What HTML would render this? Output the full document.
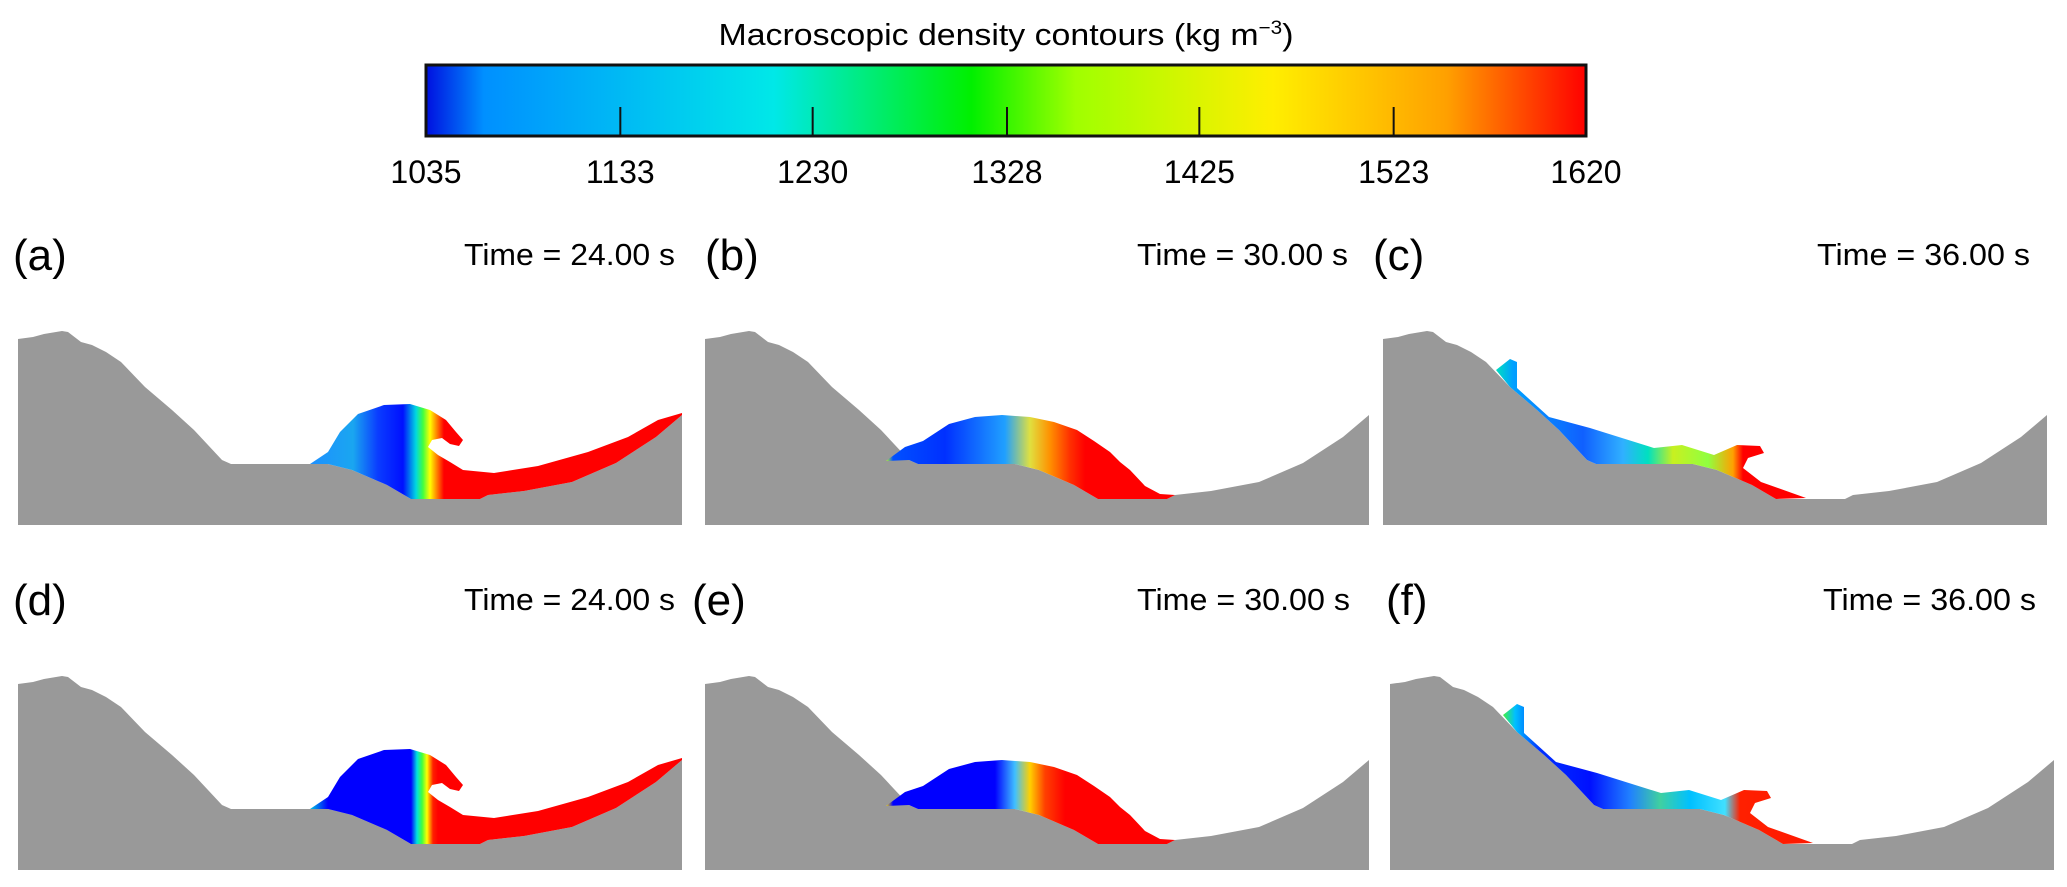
<!DOCTYPE html>
<html><head><meta charset="utf-8"><style>
html,body{margin:0;padding:0;background:#fff;}
svg{display:block;font-family:"Liberation Sans",sans-serif;}
</style></head><body>
<svg id="fig" width="2067" height="887" viewBox="0 0 2067 887" xmlns="http://www.w3.org/2000/svg">
<defs>
<linearGradient id="cbar" x1="0" x2="1" y1="0" y2="0">
<stop offset="0" stop-color="#0010e0"/><stop offset="0.05" stop-color="#0090ff"/>
<stop offset="0.3" stop-color="#00e8e8"/><stop offset="0.47" stop-color="#00f000"/>
<stop offset="0.56" stop-color="#a0ff00"/><stop offset="0.73" stop-color="#ffee00"/>
<stop offset="0.88" stop-color="#ffa000"/><stop offset="1" stop-color="#ff0000"/>
</linearGradient>
</defs>
<text x="1006" y="45" text-anchor="middle" font-size="31" textLength="575" lengthAdjust="spacingAndGlyphs">Macroscopic density contours  (kg m<tspan dy="-11" font-size="19">−3</tspan><tspan dy="11">)</tspan></text>
<g id="cb"></g>
<g id="panels"></g>
</svg>
<script>
const tickLabels = ["1035","1133","1230","1328","1425","1523","1620"];
const tickValues = [1035,1133,1230,1328,1425,1523,1620];
const panelLetters = ["(a)","(b)","(c)","(d)","(e)","(f)"];
const panelTimes = ["Time = 24.00 s","Time = 30.00 s","Time = 36.00 s","Time = 24.00 s","Time = 30.00 s","Time = 36.00 s"];

const NS="http://www.w3.org/2000/svg";
function mk(tag,attrs,parent){const e=document.createElementNS(NS,tag);for(const k in attrs)e.setAttribute(k,attrs[k]);parent.appendChild(e);return e;}

const cb=document.getElementById('cb');
const cbX0=426,cbX1=1586,cbY0=65,cbY1=136;
const vmin=tickValues[0],vmax=tickValues[tickValues.length-1];
function cx(v){return cbX0+(v-vmin)/(vmax-vmin)*(cbX1-cbX0);}
const bar=mk('rect',{x:cbX0,y:cbY0,width:cbX1-cbX0,height:cbY1-cbY0,fill:'url(#cbar)',stroke:'#111','stroke-width':3},cb);


tickValues.forEach((v,i)=>{
  if(i>0&&i<tickValues.length-1){
    const t=mk('line',{x1:cx(v),x2:cx(v),y1:cbY1,y2:cbY1-29,stroke:'#111','stroke-width':2},cb);
    
    
  }
  const tx=mk('text',{x:cx(v),y:183,'text-anchor':'middle','font-size':32},cb);
  tx.textContent=tickLabels[i];
  
  
});

const terrain=[[0,339],[15,337],[26,334],[44,331],[50,332],[63,342],[74,345],[88,352],[103,362],[127,387],[154,410],[176,430],[204,460],[213,464],[310,464],[334,470],[369,485],[393,499],[462,499],[470,495],[506,491],[554,482],[598,463],[638,437],[664,415],[664,525],[0,525]];
const shapes={
 wave:[[292,464],[310,452],[322,432],[340,414],[366,405],[392,404],[412,410],[428,420],[438,432],[445,440],[441,446],[432,444],[424,438],[414,440],[410,447],[420,455],[432,462],[445,470],[476,473],[520,466],[570,452],[610,437],[640,420],[664,413],[664,415],[638,437],[598,463],[554,482],[506,491],[470,495],[462,499],[393,499],[369,485],[334,470],[310,464]],
 dome:[[181,461],[200,447],[218,441],[244,424],[270,417],[297,415],[325,417],[349,422],[372,430],[389,441],[405,452],[415,462],[425,470],[440,486],[455,494],[470,495],[462,499],[393,499],[369,485],[334,470],[310,464],[213,464],[204,460]],
 layer:[[113,370],[127,359],[134,362],[134,388],[166,417],[207,428],[271,448],[299,445],[331,455],[354,445],[377,446],[381,453],[365,458],[360,468],[378,482],[423,498],[393,499],[369,485],[334,470],[310,464],[213,464],[204,460],[176,430],[154,410],[127,387]]
};
const grads={
 a:[[292,'#1e90ff'],[335,'#1aa6f0'],[360,'#0a3cff'],[385,'#0010ff'],[398,'#00d8e0'],[405,'#40ff40'],[412,'#ffff00'],[418,'#ff9000'],[426,'#ff0000']],
 b:[[181,'#c0ff20'],[188,'#0050ff'],[240,'#0030ff'],[300,'#20a0ff'],[325,'#e0e040'],[345,'#ff9000'],[365,'#ff3000'],[380,'#ff0000'],[664,'#ff0000']],
 c:[[113,'#00e0c0'],[130,'#00a0ff'],[200,'#1060ff'],[240,'#30b0ff'],[265,'#00e0c0'],[290,'#c8f020'],[325,'#90ff40'],[350,'#ffa000'],[360,'#ff0000'],[664,'#ff0000']],
 d:[[292,'#00c8e0'],[310,'#0000ff'],[393,'#0000ff'],[399,'#00e0e0'],[404,'#40ff40'],[409,'#ffff00'],[415,'#ff2000'],[420,'#ff0000']],
 e:[[181,'#ffe000'],[188,'#0000ff'],[290,'#0000ff'],[310,'#40c0ff'],[325,'#ffd000'],[340,'#ff4000'],[360,'#ff0000'],[664,'#ff0000']],
 f:[[113,'#40f040'],[125,'#00c0ff'],[150,'#0030ff'],[200,'#0010ff'],[240,'#2080ff'],[270,'#40d0a0'],[300,'#00c0ff'],[335,'#40e0ff'],[350,'#ff2000'],[664,'#ff0000']]
};
const panels=[
 {id:'a',x:18,row:0,shape:'wave',lx:13,tx:464,tw:211},
 {id:'b',x:705,row:0,shape:'dome',lx:705,tx:1137,tw:211},
 {id:'c',x:1383,row:0,shape:'layer',lx:1373,tx:1817,tw:213},
 {id:'d',x:18,row:1,shape:'wave',lx:13,tx:464,tw:211},
 {id:'e',x:705,row:1,shape:'dome',lx:692,tx:1137,tw:213},
 {id:'f',x:1390,row:1,shape:'layer',lx:1386,tx:1823,tw:213}
];
const P=document.getElementById('panels');
const defs=document.querySelector('defs');
panels.forEach((p,i)=>{
  const dy=p.row*345;
  const g=mk('g',{},P);
  
  
  const lab=mk('text',{x:p.lx,y:270+dy,'font-size':44},g);
  lab.textContent=panelLetters[i];
  
  
  const tm=mk('text',{x:p.tx,y:265+dy,'font-size':31,textLength:p.tw,lengthAdjust:'spacingAndGlyphs'},g);
  tm.textContent=panelTimes[i];
  
  
  const inner=mk('g',{transform:'translate('+p.x+','+dy+')'},g);
  const ter=mk('polygon',{points:terrain.map(q=>q.join(',')).join(' '),fill:'#999999'},inner);
  
  
  const lg=mk('linearGradient',{id:'g'+p.id,gradientUnits:'userSpaceOnUse',x1:0,x2:664,y1:0,y2:0},defs);
  grads[p.id].forEach(s=>mk('stop',{offset:s[0]/664,'stop-color':s[1]},lg));
  const fl=mk('polygon',{points:shapes[p.shape].map(q=>q.join(',')).join(' '),fill:'url(#g'+p.id+')'},inner);
  
  
});
</script>
</body></html>
